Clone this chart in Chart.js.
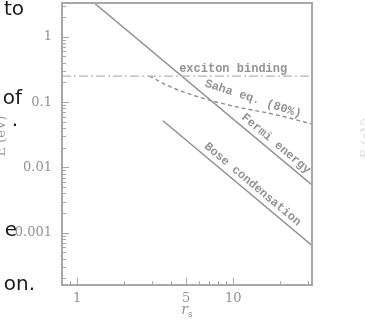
<!DOCTYPE html>
<html>
<head>
<meta charset="utf-8">
<script src="https://cdn.jsdelivr.net/npm/chart.js@4.4.1/dist/chart.umd.min.js"></script>
<style>
  html, body { margin: 0; padding: 0; background: #fff; overflow: hidden; }
  #wrap { position: relative; width: 365px; height: 322px; overflow: hidden; background: #fff; }
  #wrap canvas { position: absolute; left: 0; top: 0; }
  .body-text {
    position: absolute;
    font-family: "DejaVu Sans", sans-serif;
    font-size: 20px;
    line-height: 1;
    color: #1a1a1a;
    white-space: nowrap;
  }
  .vlabel {
    position: absolute;
    font-family: "DejaVu Serif", serif;
    font-size: 13px;
    line-height: 1;
    color: #9a9a9a;
    white-space: nowrap;
    transform: translate(-50%, -50%) rotate(-90deg);
  }
</style>
</head>
<body>
<div id="wrap">
  <canvas id="chart"></canvas>
  <span class="body-text" style="right:341px; top:-2px;">to</span>
  <span class="body-text" style="right:343px; top:87px;">of</span>
  <span class="body-text" style="right:347px; top:109px;">.</span>
  <span class="body-text" style="right:348px; top:219px;">e</span>
  <span class="body-text" style="right:330px; top:273px;">on.</span>
  <span class="vlabel" style="left:0px; top:136px;">E (eV)</span>
  <span class="vlabel" style="left:366px; top:138px; color:#d4d4d4;">E (eV)</span>
</div>
<script>
// curves (x = r_s, y = energy in eV)
const fermiX = [1.25, 32];
const fermiY = [3.5, 0.0054];
const excitonX = [0.8, 32];
const excitonY = [0.25, 0.25];
const sahaX = [2.9, 4.0, 6.0, 10, 20, 32];
const sahaY = [0.25, 0.17, 0.12, 0.087, 0.062, 0.046];
const boseX = [3.55, 32];
const boseY = [0.052, 0.00064];

// ticks
const xTickLabels = [1, 5, 10];
const xMinorTicks = [0.9, 2, 3, 4, 6, 7, 8, 9, 20, 30];
const yTickLabels = [0.001, 0.01, 0.1, 1];
const yMinorTicks = [2, 3, 4, 5, 6, 7, 8, 9]
  .flatMap((m) => [m * 1e-4, m * 1e-3, m * 1e-2, m * 1e-1])
  .concat([2, 3]);

// in-plot captions, anchored in data units
const curveLabels = [
  { text: "exciton binding", x: 10, y: 0.32, angle: 0 },
  { text: "Saha eq. (80%)", x: 13.4, y: 0.112, angle: 18 },
  { text: "Fermi energy", x: 18.8, y: 0.023, angle: 40 },
  { text: "Bose condensation", x: 13.3, y: 0.0055, angle: 40 },
];

const lineColor = "#8e8e8e";
const frameColor = "#a8a8a8";
const textColor = "#939393";
const tickFont = { family: "'DejaVu Serif', serif", size: 13 };

function toPoints(xs, ys) {
  return xs.map((x, i) => ({ x, y: ys[i] }));
}

const frameAndLabels = {
  id: "frameAndLabels",
  afterDatasetsDraw(chart) {
    const { ctx, chartArea: a, scales } = chart;
    const xs = scales.x;
    const ys = scales.y;
    ctx.save();

    ctx.strokeStyle = frameColor;
    ctx.lineWidth = 1;
    ctx.beginPath();
    xTickLabels.forEach((v) => {
      const px = Math.round(xs.getPixelForValue(v)) + 0.5;
      ctx.moveTo(px, a.bottom);
      ctx.lineTo(px, a.bottom - 7);
    });
    xMinorTicks.forEach((v) => {
      const px = Math.round(xs.getPixelForValue(v)) + 0.5;
      ctx.moveTo(px, a.bottom);
      ctx.lineTo(px, a.bottom - 4);
    });
    yTickLabels.forEach((v) => {
      const py = Math.round(ys.getPixelForValue(v)) + 0.5;
      ctx.moveTo(a.left, py);
      ctx.lineTo(a.left + 7, py);
    });
    yMinorTicks.forEach((v) => {
      const py = Math.round(ys.getPixelForValue(v)) + 0.5;
      ctx.moveTo(a.left, py);
      ctx.lineTo(a.left + 4, py);
    });
    ctx.stroke();

    ctx.lineWidth = 2;
    ctx.strokeRect(a.left, a.top, a.width, a.height);

    ctx.fillStyle = textColor;
    ctx.font = "bold 12px 'Liberation Mono', monospace";
    ctx.textAlign = "center";
    ctx.textBaseline = "middle";
    curveLabels.forEach((l) => {
      ctx.save();
      ctx.translate(xs.getPixelForValue(l.x), ys.getPixelForValue(l.y));
      ctx.rotate((l.angle * Math.PI) / 180);
      ctx.fillText(l.text, 0, 0);
      ctx.restore();
    });

    // axis title r_s
    const cx = (a.left + a.right) / 2;
    ctx.font = "italic 14px 'DejaVu Serif', serif";
    ctx.textAlign = "right";
    ctx.textBaseline = "alphabetic";
    ctx.fillText("r", cx + 1, 314);
    ctx.font = "9px 'DejaVu Serif', serif";
    ctx.textAlign = "left";
    ctx.fillText("s", cx + 1, 317);

    ctx.restore();
  },
};

const lineStyle = {
  pointRadius: 0,
  borderWidth: 1.4,
  fill: false,
  tension: 0,
};

new Chart(document.getElementById("chart"), {
  type: "line",
  data: {
    datasets: [
      {
        ...lineStyle,
        label: "exciton binding",
        data: toPoints(excitonX, excitonY),
        borderColor: "#b4b4b4",
        borderDash: [9, 3, 2, 3],
      },
      {
        ...lineStyle,
        label: "Fermi energy",
        data: toPoints(fermiX, fermiY),
        borderColor: lineColor,
      },
      {
        ...lineStyle,
        label: "Saha eq. (80%)",
        data: toPoints(sahaX, sahaY),
        borderColor: lineColor,
        borderDash: [4, 3],
        tension: 0.3,
        cubicInterpolationMode: "monotone",
      },
      {
        ...lineStyle,
        label: "Bose condensation",
        data: toPoints(boseX, boseY),
        borderColor: lineColor,
      },
    ],
  },
  options: {
    responsive: true,
    maintainAspectRatio: false,
    animation: false,
    layout: { padding: { top: 3, right: 53, left: 0, bottom: 0 } },
    plugins: {
      legend: { display: false },
      tooltip: { enabled: false },
    },
    scales: {
      x: {
        type: "logarithmic",
        min: 0.8,
        max: 32,
        afterBuildTicks: (scale) => {
          scale.ticks = xTickLabels.map((value) => ({ value }));
        },
        afterFit: (scale) => {
          scale.height = 37;
          scale.paddingLeft = 0;
          scale.paddingRight = 0;
        },
        ticks: {
          autoSkip: false,
          maxRotation: 0,
          padding: 6,
          color: textColor,
          font: tickFont,
          callback: (value) => String(value),
        },
        grid: { display: false, drawTicks: false },
        border: { display: false },
      },
      y: {
        type: "logarithmic",
        min: 1.58e-4,
        max: 3.3,
        afterBuildTicks: (scale) => {
          scale.ticks = yTickLabels.map((value) => ({ value }));
        },
        afterFit: (scale) => {
          scale.width = 62;
          scale.paddingTop = 0;
          scale.paddingBottom = 0;
        },
        ticks: {
          autoSkip: false,
          padding: 10,
          color: textColor,
          font: tickFont,
          callback: (value) => String(value),
        },
        grid: { display: false, drawTicks: false },
        border: { display: false },
      },
    },
  },
  plugins: [frameAndLabels],
});
</script>
</body>
</html>
